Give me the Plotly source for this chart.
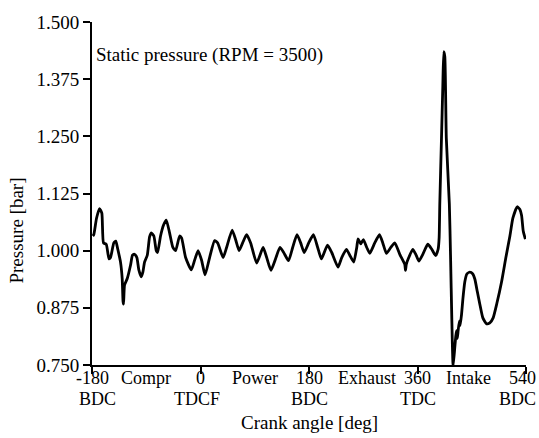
import plotly.graph_objects as go

# Crank angle [deg] and static pressure [bar]
crank_angle = [
    -178.7, -177.0, -172.5, -167.5, -163.7, -160.9, -156.4, -151.8, -149.3, -143.8,
    -140.5, -137.2, -132.7, -129.9, -128.5, -127.7, -126.0, -121.5, -116.1, -112.8,
    -109.4, -105.6, -102.3, -98.3, -95.6, -92.8, -88.3, -84.5, -81.7, -77.4,
    -73.4, -71.2, -66.3, -61.3, -56.8, -51.3, -45.8, -41.3, -34.7, -31.4,
    -24.7, -15.3, -9.8, -4.0, 1.8, 7.6, 15.1, 23.4, 28.4, 37.5,
    43.3, 52.5, 58.3, 64.1, 69.9, 76.5, 83.2, 93.2, 103.9, 109.8,
    116.9, 124.7, 131.8, 138.0, 146.0, 152.9, 160.1, 166.2, 172.0, 179.5,
    187.3, 194.4, 200.6, 210.7, 217.7, 228.1, 234.3, 242.1, 247.6, 254.2,
    259.2, 261.4, 265.8, 270.3, 275.8, 280.8, 289.1, 296.9, 302.4, 308.5,
    315.7, 322.3, 330.6, 338.9, 340.1, 341.4, 345.5, 352.2, 357.2, 362.2,
    368.8, 377.1, 383.7, 390.1, 394.2, 395.9, 397.0, 399.8, 402.0, 403.6,
    405.3, 407.8, 412.8, 414.8, 417.0, 419.1, 421.9, 423.6, 424.8, 426.1,
    427.4, 429.4, 430.7, 433.1, 435.2, 438.5, 441.9, 446.8, 451.8, 455.1,
    459.3, 463.4, 468.4, 474.6, 480.0, 485.5, 491.7, 499.5, 506.6, 513.3,
    518.2, 525.4, 529.9, 532.7, 535.4, 539.0,
]
pressure = [
    1.032, 1.035, 1.071, 1.092, 1.082, 1.017, 1.014, 0.982, 0.985, 1.017,
    1.021, 1.003, 0.975, 0.939, 0.889, 0.883, 0.925, 0.939, 0.968, 0.990,
    0.992, 0.985, 0.958, 0.943, 0.953, 0.975, 0.990, 1.030, 1.039, 1.032,
    1.000, 0.996, 1.032, 1.056, 1.067, 1.039, 1.007, 1.000, 1.032, 1.028,
    0.985, 0.958, 0.979, 1.000, 0.979, 0.947, 0.985, 1.022, 1.017, 0.985,
    1.007, 1.045, 1.024, 1.000, 1.017, 1.035, 1.017, 0.973, 1.007, 0.985,
    0.957, 0.983, 1.007, 0.996, 0.978, 1.007, 1.035, 1.017, 0.996, 1.017,
    1.035, 1.007, 0.982, 1.012, 0.996, 0.964, 0.985, 1.003, 0.990, 0.975,
    1.007, 1.026, 1.015, 1.024, 1.007, 0.994, 1.017, 1.035, 1.017, 0.994,
    1.007, 1.017, 0.992, 0.970, 0.957, 0.970, 0.985, 1.003, 0.992, 0.977,
    0.992, 1.014, 1.003, 0.989, 1.003, 1.028, 1.103, 1.246, 1.360, 1.435,
    1.424, 1.246, 1.103, 0.990, 0.846, 0.748, 0.789, 0.814, 0.825, 0.808,
    0.825, 0.846, 0.836, 0.861, 0.893, 0.932, 0.949, 0.953, 0.949, 0.938,
    0.910, 0.883, 0.853, 0.840, 0.842, 0.853, 0.885, 0.932, 0.985, 1.032,
    1.071, 1.096, 1.090, 1.077, 1.043, 1.025,
]

x_tick_vals = [-180, 0, 180, 360, 540]
x_tick_text = ["-180", "0", "180", "360", "540"]
x_sub_labels = ["BDC", "TDCF", "BDC", "TDC", "BDC"]
phase_pos = [-90, 90, 276, 445]
phase_labels = ["Compr", "Power", "Exhaust", "Intake"]
y_tick_vals = [0.750, 0.875, 1.000, 1.125, 1.250, 1.375, 1.500]

FONT = "'Liberation Serif', 'Times New Roman', serif"
FS = 19
TF = dict(family=FONT, size=FS, color="black")
XF = dict(family=FONT, size=18, color="black")
ROW1 = -13
ROW2 = -33.5

fig = go.Figure()
fig.add_trace(go.Scatter(
    x=crank_angle, y=pressure, mode="lines",
    line=dict(color="black", width=2.8, shape="spline", smoothing=0.5),
    showlegend=False,
))

annotations = []
for i, (xv, t) in enumerate(zip(x_tick_vals, x_tick_text)):
    if i == 4:
        annotations.append(dict(x=xv, y=0, xref="x", yref="paper", text=t,
                                showarrow=False, yanchor="middle", yshift=ROW1,
                                xanchor="right", xshift=12, font=XF))
    else:
        annotations.append(dict(x=xv, y=0, xref="x", yref="paper", text=t,
                                showarrow=False, yanchor="middle", yshift=ROW1,
                                font=XF))
for i, (xv, t) in enumerate(zip(x_tick_vals, x_sub_labels)):
    if i == 4:
        annotations.append(dict(x=xv, y=0, xref="x", yref="paper", text=t,
                                showarrow=False, yanchor="middle", yshift=ROW2,
                                xanchor="right", xshift=12, font=XF))
    else:
        annotations.append(dict(x=xv, y=0, xref="x", yref="paper", text=t,
                                showarrow=False, yanchor="middle", yshift=ROW2,
                                xshift=(5 if i == 0 else -4 if i == 1 else 0),
                                font=XF))
for xv, t in zip(phase_pos, phase_labels):
    annotations.append(dict(x=xv, y=0, xref="x", yref="paper", text=t,
                            showarrow=False, yanchor="middle", yshift=ROW1,
                            font=XF))
annotations.append(dict(x=0.5, y=0, xref="paper", yref="paper",
                        text="Crank angle [deg]", showarrow=False,
                        yanchor="middle", yshift=-57.5, font=TF))
annotations.append(dict(x=0, y=0.9046, xref="paper", yref="paper",
                        text="Static pressure (RPM = 3500)", showarrow=False,
                        xanchor="left", yanchor="middle", xshift=2, font=TF))
annotations.append(dict(x=0, y=0.392, xref="paper", yref="paper",
                        text="Pressure [bar]", showarrow=False, textangle=-90,
                        xanchor="center", yanchor="middle", xshift=-75, font=TF))

fig.update_layout(
    width=539, height=438,
    margin=dict(l=92, r=13, t=15, b=73, pad=0),
    paper_bgcolor="white", plot_bgcolor="white",
    font=TF,
    annotations=annotations,
    xaxis=dict(range=[-180, 540], tickvals=x_tick_vals, showticklabels=False,
               showline=True, linecolor="black", linewidth=2,
               ticks="outside", ticklen=7, tickwidth=2, tickcolor="black",
               showgrid=False, zeroline=False),
    yaxis=dict(range=[0.75, 1.5], tickvals=y_tick_vals, tickformat=".3f",
               showline=True, linecolor="black", linewidth=2,
               ticks="outside", ticklen=7, tickwidth=2, tickcolor="black",
               showgrid=False, zeroline=False, tickfont=TF),
)

fig.write_html("out.html")
